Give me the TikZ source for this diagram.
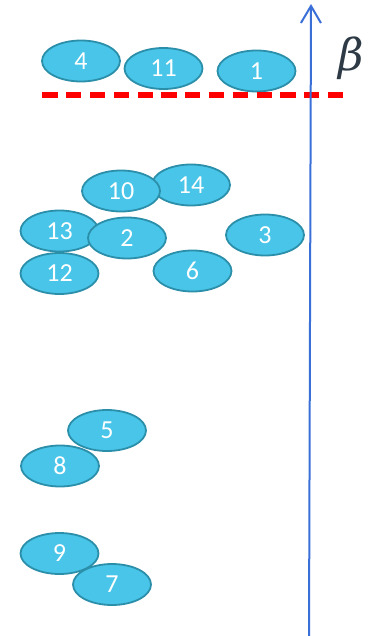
\documentclass[tikz,border=0pt]{standalone}
\usepackage{fontspec}
\setsansfont{Carlito}
\newfontfamily\greekfont{DejaVu Serif}
\usetikzlibrary{shapes.geometric,arrows.meta}
\definecolor{cellfill}{HTML}{48C5E8}
\definecolor{celledge}{HTML}{2C8FAA}
\definecolor{axisblue}{HTML}{3A6FD8}
\definecolor{betagray}{HTML}{2E3B46}
\tikzset{
  cell/.style={ellipse, draw=celledge, line width=1.8pt, fill=cellfill,
    minimum width=78pt, minimum height=41pt, inner sep=0pt,
    text=white, font=\sffamily\fontsize{26}{26}\selectfont},
  threshold/.style={draw=red, line width=5.3pt, dash pattern=on 15.3pt off 8.5pt},
  axis/.style={draw=axisblue, line width=2pt,
    -{Straight Barb[length=17pt,width=20pt,line width=2pt]}}
}
\begin{document}
\begin{tikzpicture}[x=1pt,y=-1pt]
\useasboundingbox (0,0) rectangle (371,636);
% top row, above the threshold
\node[cell] (n4)  at (81,61)    {4};
\node[cell] (n11) at (163.5,68.5) {11};
\node[cell] (n1)  at (256.5,71) {1};
% threshold line
\coordinate (tl) at (42.3,95);
\coordinate (tr) at (346,95);
\draw[threshold] (tl) -- (tr);
% middle cluster
\node[cell] (n14) at (191,185)  {14};
\node[cell] (n10) at (121,191)  {10};
\node[cell] (n13) at (59.5,231) {13};
\node[cell] (n2)  at (127,238)  {2};
\node[cell] (n3)  at (265,235)  {3};
\node[cell] (n12) at (59.5,273.5) {12};
\node[cell] (n6)  at (192.5,271) {6};
% lower cells
\node[cell] (n5)  at (107,430.5) {5};
\node[cell] (n8)  at (60,466)   {8};
\node[cell] (n9)  at (59.5,553.5) {9};
\node[cell] (n7)  at (112,584.5) {7};
% vertical axis
\coordinate (abot) at (309,636);
\coordinate (atop) at (311,4);
\draw[axis] (abot) -- (atop);
\node[text=betagray, inner sep=0pt, font=\greekfont\itshape\fontsize{44}{44}\selectfont] (beta) at (351,58) {β};
\end{tikzpicture}
\end{document}
